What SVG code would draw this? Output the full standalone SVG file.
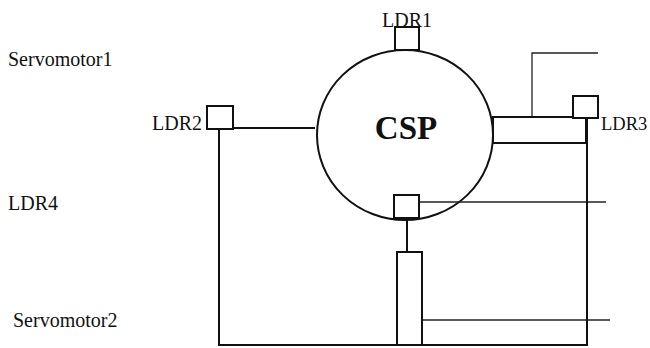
<svg xmlns="http://www.w3.org/2000/svg" width="650" height="348" viewBox="0 0 650 348">
<style>
.t{font-family:"Liberation Serif","Times New Roman",serif;font-size:20px;fill:#111}
.b{fill:#fff;stroke:#111;stroke-width:2}
.l{fill:none;stroke:#111;stroke-width:2}
.th{fill:none;stroke:#222;stroke-width:1.3}
</style>
<rect width="650" height="348" fill="#fff"/>
<g id="csp">
<ellipse cx="405" cy="135" rx="88" ry="85" fill="none" stroke="#111" stroke-width="2"/>
<text x="406" y="139" text-anchor="middle" style="font-family:'Liberation Serif','Times New Roman',serif;font-weight:bold;font-size:33px;fill:#111">CSP</text>
</g>
<g id="connectors">
<path class="th" d="M532,117 V53 H598"/>
<path class="th" d="M419,202 H606"/>
<path class="th" d="M422,320 H610"/>
<path class="l" d="M233,128 H315"/>
<path class="l" d="M219,128 V345 H587 V117"/>
<path class="l" d="M407,218 V252"/>
</g>
<g id="bar"><rect class="b" x="493" y="117" width="93" height="26"/></g>
<g id="ldr1"><rect class="b" x="395" y="27" width="24" height="23"/><text class="t" x="382" y="27">LDR1</text></g>
<g id="ldr2"><rect class="b" x="207" y="106" width="26" height="23"/><text class="t" x="202" y="130" text-anchor="end">LDR2</text></g>
<g id="ldr3"><rect class="b" x="573" y="96" width="25" height="22"/><text class="t" x="601" y="130" style="font-size:18.5px">LDR3</text></g>
<g id="ldr4"><rect class="b" x="394" y="195" width="25" height="23"/><text class="t" x="8" y="210">LDR4</text></g>
<g id="servo2"><rect class="b" x="397" y="252" width="25" height="93"/><text class="t" x="13" y="327">Servomotor2</text></g>
<g id="servo1"><text class="t" x="8" y="66">Servomotor1</text></g>
</svg>
